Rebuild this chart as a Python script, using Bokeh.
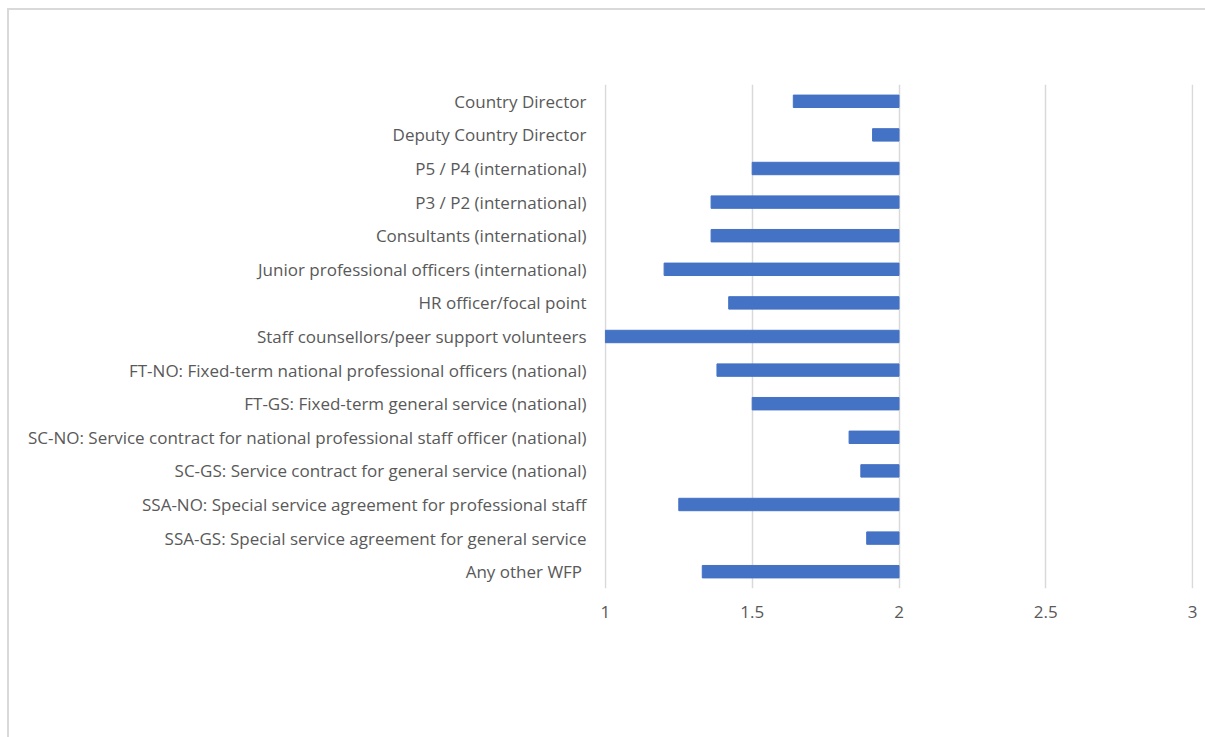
from bokeh.plotting import figure
from bokeh.models import FactorRange, Range1d, FixedTicker
from bokeh.embed import file_html
from bokeh.resources import INLINE

categories = [
    "Country Director",
    "Deputy Country Director",
    "P5 / P4 (international)",
    "P3 / P2 (international)",
    "Consultants (international)",
    "Junior professional officers (international)",
    "HR officer/focal point",
    "Staff counsellors/peer support volunteers",
    "FT-NO: Fixed-term national professional officers (national)",
    "FT-GS: Fixed-term general service (national)",
    "SC-NO: Service contract for national professional staff officer (national)",
    "SC-GS: Service contract for general service (national)",
    "SSA-NO: Special service agreement for professional staff",
    "SSA-GS: Special service agreement for general service",
    "Any other WFP ",
]
values = [1.64, 1.91, 1.50, 1.36, 1.36, 1.20, 1.42, 1.00, 1.38, 1.50, 1.83, 1.87, 1.25, 1.89, 1.33]
base_value = 2.0
x_ticks = [1, 1.5, 2, 2.5, 3]

FONT = "Open Sans"
TXT = "#595959"

p = figure(
    y_range=FactorRange(factors=list(reversed(categories)), range_padding=0),
    x_range=Range1d(0.997, 3.003),
    width=1196, height=727,
    frame_width=589, frame_height=504,
    min_border_left=595, min_border_right=12, min_border_top=74, min_border_bottom=149,
    output_backend="svg", toolbar_location=None,
)
p.styles = {"border-top": "2px solid #d9d9d9", "border-left": "2px solid #d9d9d9",
            "margin-left": "7px", "margin-top": "8px"}

p.hbar(y=categories, left=values, right=[base_value] * len(values), height=0.37,
       fill_color="#4472C4", line_color="#4472C4")

p.outline_line_color = None
p.ygrid.grid_line_color = None
p.xgrid.grid_line_color = "#d9d9d9"
p.xgrid.grid_line_width = 1.5
p.xaxis.ticker = FixedTicker(ticks=x_ticks)
p.xaxis.major_label_overrides = {1: "1", 1.5: "1.5", 2: "2", 2.5: "2.5", 3: "3"}

for ax in (p.xaxis, p.yaxis):
    ax.axis_line_color = None
    ax.major_tick_line_color = None
    ax.minor_tick_line_color = None
    ax.major_tick_out = 0
    ax.major_tick_in = 0
    ax.major_label_text_font = FONT
    ax.major_label_text_font_size = "17px"
    ax.major_label_text_color = TXT
p.xaxis.major_label_standoff = 17
p.yaxis.major_label_standoff = 18

open("out.html", "w").write(file_html(p, INLINE))
